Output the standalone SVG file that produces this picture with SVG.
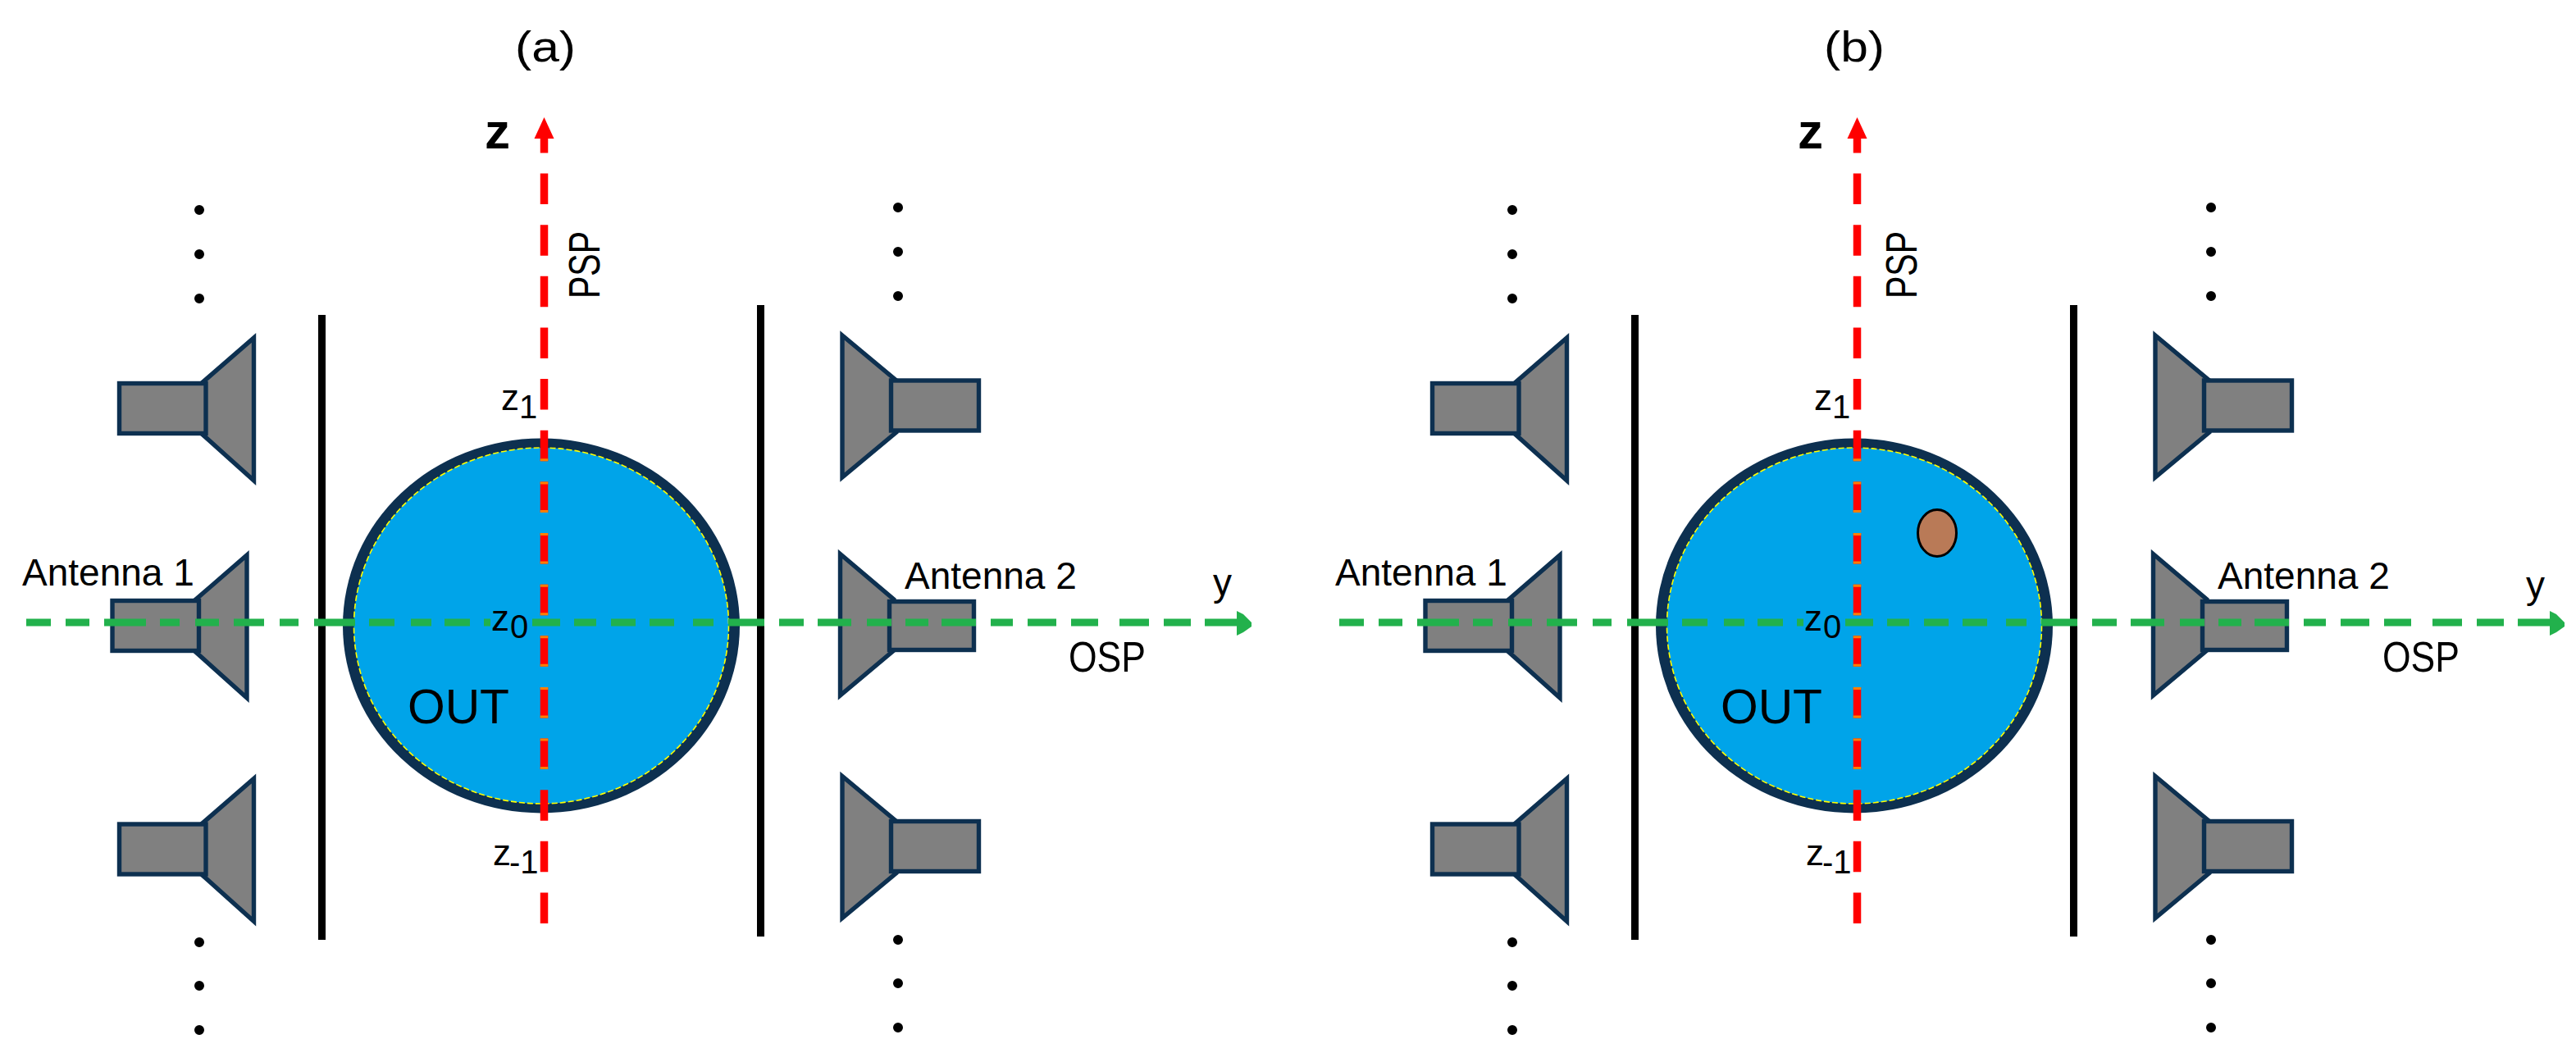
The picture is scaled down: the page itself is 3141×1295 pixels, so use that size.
<svg xmlns="http://www.w3.org/2000/svg" xmlns:xlink="http://www.w3.org/1999/xlink" width="3141" height="1295" viewBox="0 0 3141 1295">
<style>
text{font-family:"Liberation Sans",Arial,sans-serif;fill:#000}
.ant{fill:#808080;stroke:#0d3050;stroke-width:5.4;stroke-linejoin:miter;stroke-miterlimit:6}
.wall{stroke:#000;stroke-width:9;fill:none}
.dots{stroke:#000;stroke-width:12;stroke-linecap:round;fill:none}
.rim{fill:#0d3050}
.water{fill:#00a4e9;stroke:#ffff00;stroke-width:1.6;stroke-dasharray:7 3}
.red{stroke:#ff0000;stroke-width:9.5;fill:none;stroke-dasharray:37.5 25.14}
.orange{stroke:#ff7f00;stroke-width:9.5;fill:none;stroke-dasharray:3 31.5 3 25.14}
.green{stroke:#22b14c;stroke-width:9;fill:none}
.lab{font-size:46px}
.sub{font-size:40px}
.zz{font-size:44px}
</style>
<defs>
<g id="antenna-left"><polygon class="ant" points="309.5,412 309.5,586 246,529 246,467"/><rect class="ant" x="145.5" y="467.5" width="105.5" height="61"/></g>
<g id="antenna-right"><polygon class="ant" points="1027,409 1027,582 1093,527 1093,464"/><rect class="ant" x="1086.5" y="464" width="107" height="61"/></g>
<g id="antenna-right-mid"><polygon class="ant" points="1024.5,675.5 1024.5,848 1090,793 1090,731"/><rect class="ant" x="1084.5" y="733.5" width="103" height="59"/></g>
<g id="vessel"><ellipse class="rim" cx="660" cy="763" rx="242" ry="228.5"/><ellipse class="water" cx="660" cy="763" rx="228.5" ry="217"/></g>
<path id="green-dashes" class="green" d="M32 759H62M80 759H109M127 759H178M195 759H219M238 759H267M285 759H322M341 759H364M383 759H433M450 759H481M501 759H526M542 759H573M590 759H598M649 759H683M700 759H727M745 759H775M792 759H822M845 759H870M888 759H932M950 759H980M997 759H1038M1057 759H1087M1104 759H1132M1148 759H1190M1208 759H1235M1253 759H1288M1306 759H1339M1365 759H1401M1419 759H1452M1469 759H1510"/>
<polygon id="green-head" fill="#22b14c" points="1508,745 1516,749 1526,759 1526,764 1516,771 1508,775"/>
<g id="red-axis"><line class="red" x1="663.5" y1="1126" x2="663.5" y2="165"/><line class="orange" x1="663.5" y1="938.1" x2="663.5" y2="559"/><polygon fill="#ff0000" points="663.5,143 675.5,169 651.5,169"/></g>
</defs>

<g id="panel-a">
<g id="title-a"><text x="628" y="75" font-size="52" textLength="74" lengthAdjust="spacingAndGlyphs">(a)</text></g>
<g id="dots-a-left-top"><path class="dots" d="M243 256h.01M243 310h.01M243 364h.01"/></g>
<g id="dots-a-left-bottom"><path class="dots" d="M243 1149h.01M243 1202h.01M243 1256h.01"/></g>
<g id="dots-a-right-top"><path class="dots" d="M1095 253h.01M1095 307h.01M1095 361h.01"/></g>
<g id="dots-a-right-bottom"><path class="dots" d="M1095 1146h.01M1095 1199h.01M1095 1253h.01"/></g>
<g id="antenna-a-l1"><use xlink:href="#antenna-left" href="#antenna-left"/></g>
<g id="antenna-a-l2"><use xlink:href="#antenna-left" href="#antenna-left" transform="translate(-8.5 265)"/></g>
<g id="antenna-a-l3"><use xlink:href="#antenna-left" href="#antenna-left" transform="translate(0 537.5)"/></g>
<g id="antenna-a-r1"><use xlink:href="#antenna-right" href="#antenna-right"/></g>
<g id="antenna-a-r2"><use xlink:href="#antenna-right-mid" href="#antenna-right-mid"/></g>
<g id="antenna-a-r3"><use xlink:href="#antenna-right" href="#antenna-right" transform="translate(0 537.5)"/></g>
<g id="wall-a-left"><line class="wall" x1="392.5" y1="384" x2="392.5" y2="1146"/></g>
<g id="wall-a-right"><line class="wall" x1="927.5" y1="372" x2="927.5" y2="1142"/></g>
<g id="out-a"><use xlink:href="#vessel" href="#vessel"/></g>
<g id="connectors-a"><use xlink:href="#red-axis" href="#red-axis"/><use xlink:href="#green-dashes" href="#green-dashes"/><use xlink:href="#green-head" href="#green-head"/></g>
<g id="labels-a">
<text x="591" y="181" font-size="62" font-weight="bold">z</text>
<text transform="translate(731 364) rotate(-90)" font-size="54" textLength="82" lengthAdjust="spacingAndGlyphs">PSP</text>
<text class="zz" x="611" y="500">z<tspan class="sub" x="633" y="510">1</tspan></text>
<text class="zz" x="599" y="769">z<tspan class="sub" x="622" y="778">0</tspan></text>
<text class="zz" x="601" y="1055">z<tspan class="sub" x="621" y="1065">-1</tspan></text>
<text x="497" y="882" font-size="60" textLength="124" lengthAdjust="spacingAndGlyphs">OUT</text>
<text class="lab" x="27" y="714">Antenna 1</text>
<text class="lab" x="1103" y="718">Antenna 2</text>
<text class="lab" x="1479" y="726">y</text>
<text x="1303" y="819" font-size="52" textLength="94" lengthAdjust="spacingAndGlyphs">OSP</text>
</g>
</g>

<g id="panel-b">
<g id="title-b"><text x="2224" y="75" font-size="52" textLength="74" lengthAdjust="spacingAndGlyphs">(b)</text></g>
<g transform="translate(1601 0)">
<g id="dots-b-left-top"><path class="dots" d="M243 256h.01M243 310h.01M243 364h.01"/></g>
<g id="dots-b-left-bottom"><path class="dots" d="M243 1149h.01M243 1202h.01M243 1256h.01"/></g>
<g id="dots-b-right-top"><path class="dots" d="M1095 253h.01M1095 307h.01M1095 361h.01"/></g>
<g id="dots-b-right-bottom"><path class="dots" d="M1095 1146h.01M1095 1199h.01M1095 1253h.01"/></g>
<g id="antenna-b-l1"><use xlink:href="#antenna-left" href="#antenna-left"/></g>
<g id="antenna-b-l2"><use xlink:href="#antenna-left" href="#antenna-left" transform="translate(-8.5 265)"/></g>
<g id="antenna-b-l3"><use xlink:href="#antenna-left" href="#antenna-left" transform="translate(0 537.5)"/></g>
<g id="antenna-b-r1"><use xlink:href="#antenna-right" href="#antenna-right"/></g>
<g id="antenna-b-r2"><use xlink:href="#antenna-right-mid" href="#antenna-right-mid"/></g>
<g id="antenna-b-r3"><use xlink:href="#antenna-right" href="#antenna-right" transform="translate(0 537.5)"/></g>
<g id="wall-b-left"><line class="wall" x1="392.5" y1="384" x2="392.5" y2="1146"/></g>
<g id="wall-b-right"><line class="wall" x1="927.5" y1="372" x2="927.5" y2="1142"/></g>
<g id="out-b"><use xlink:href="#vessel" href="#vessel"/></g>
<g id="inclusion"><ellipse cx="761" cy="650" rx="23.5" ry="28.5" fill="#b97a57" stroke="#000" stroke-width="3"/></g>
<g id="connectors-b"><use xlink:href="#red-axis" href="#red-axis"/><use xlink:href="#green-dashes" href="#green-dashes"/><use xlink:href="#green-head" href="#green-head"/></g>
<g id="labels-b">
<text x="591" y="181" font-size="62" font-weight="bold">z</text>
<text transform="translate(736 364) rotate(-90)" font-size="54" textLength="82" lengthAdjust="spacingAndGlyphs">PSP</text>
<text class="zz" x="611" y="500">z<tspan class="sub" x="633" y="510">1</tspan></text>
<text class="zz" x="599" y="769">z<tspan class="sub" x="622" y="778">0</tspan></text>
<text class="zz" x="601" y="1055">z<tspan class="sub" x="621" y="1065">-1</tspan></text>
<text x="497" y="882" font-size="60" textLength="124" lengthAdjust="spacingAndGlyphs">OUT</text>
<text class="lab" x="27" y="714">Antenna 1</text>
<text class="lab" x="1103" y="718">Antenna 2</text>
<text class="lab" x="1479" y="729">y</text>
<text x="1304" y="819" font-size="52" textLength="94" lengthAdjust="spacingAndGlyphs">OSP</text>
</g>
</g>
</g>
</svg>
